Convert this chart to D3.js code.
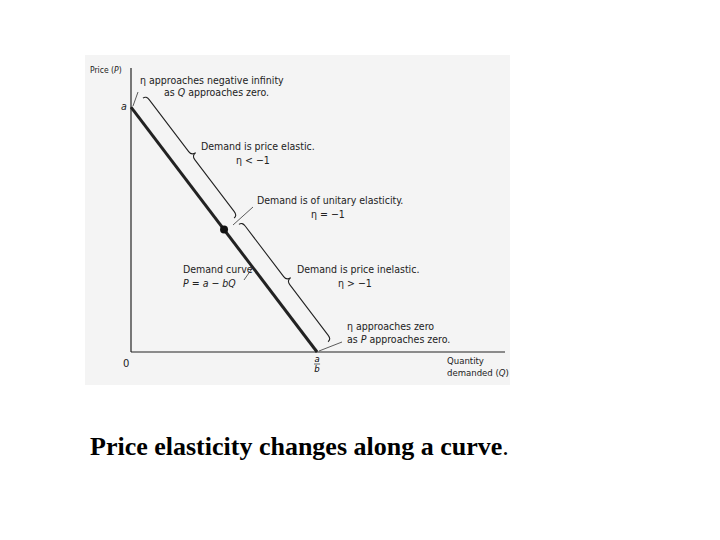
<!DOCTYPE html>
<html><head><meta charset="utf-8">
<script src="https://cdn.jsdelivr.net/npm/d3@7"></script>
<style>body{margin:0;background:#fff}</style>
</head><body>
<svg id="chart" width="720" height="540"></svg>
<script>
// demand curve P = a - bQ, in units of a and a/b
const curveQ = [0, 1];
const curveP = [1, 0];
const unitaryPoint = [0.5, 0.5];
// segments along the curve (fraction of the curve) marked by braces
const braceSpans = [[0.0, 0.49], [0.516, 0.995]];
const xTicks = [{v: 0, t: "0"}];

const svg = d3.select("#chart");
const x = d3.scaleLinear().domain([0, 2.01]).range([131, 505]);
const y = d3.scaleLinear().domain([0, 1.16]).range([352, 68]);

svg.append("rect").attr("x", 85).attr("y", 55).attr("width", 425).attr("height", 330).attr("fill", "#f4f4f4");

// axes
svg.append("line").attr("x1", x(0)).attr("y1", y(0)).attr("x2", x(2.01)).attr("y2", y(0)).attr("stroke", "#222").attr("stroke-width", 1.2);
svg.append("line").attr("x1", x(0)).attr("y1", y(0)).attr("x2", x(0)).attr("y2", y(1.16)).attr("stroke", "#222").attr("stroke-width", 1.2);

// demand curve
svg.append("path")
  .attr("d", d3.line()(curveQ.map((q, i) => [x(q), y(curveP[i])])))
  .attr("stroke", "#222").attr("stroke-width", 3).attr("fill", "none");
svg.append("circle").attr("cx", x(unitaryPoint[0])).attr("cy", y(unitaryPoint[1])).attr("r", 4).attr("fill", "#111");

// braces
const p0 = [x(0), y(1)], p1 = [x(1), y(0)];
const dx = p1[0] - p0[0], dy = p1[1] - p0[1], len = Math.hypot(dx, dy);
const ux = dx / len, uy = dy / len, nx = uy, ny = -ux;
const ang = Math.atan2(dy, dx) * 180 / Math.PI;
braceSpans.forEach(s => {
  const L = (s[1] - s[0]) * len, h = L / 2;
  const ox = p0[0] + ux * s[0] * len + nx * 19, oy = p0[1] + uy * s[0] * len + ny * 19;
  // local frame: along +x, outward -y
  const d = `M0,4 Q0,0 5,0 L${h - 5},0 Q${h},0 ${h},-5 Q${h},0 ${h + 5},0 L${L - 5},0 Q${L},0 ${L},4`;
  svg.append("path").attr("d", d).attr("fill", "none").attr("stroke", "#222").attr("stroke-width", 1.1)
    .attr("transform", `translate(${ox},${oy}) rotate(${ang})`);
});

// leader lines
const leaders = [[138, 92, 133, 106], [253, 207, 233, 225], [251, 270, 244, 280], [342, 342, 319, 351]];
leaders.forEach(l => svg.append("line").attr("x1", l[0]).attr("y1", l[1]).attr("x2", l[2]).attr("y2", l[3]).attr("stroke", "#333").attr("stroke-width", 0.8));

const labels = [
  [90, 73, "Price (<i>P</i>)", 8.5],
  [140, 84, "η  approaches negative infinity", 10.5],
  [164, 96, "as <i>Q</i> approaches zero.", 10.5],
  [121, 110, "<i>a</i>", 10.5],
  [201, 150, "Demand is price elastic.", 10.5],
  [236, 164, "η &lt; −1", 10.5],
  [257, 204, "Demand is of unitary elasticity.", 10.5],
  [311, 218, "η = −1", 10.5],
  [183, 273, "Demand curve", 10.5],
  [183, 287, "<i>P</i> = <i>a</i> − <i>b</i><i>Q</i>", 10.5],
  [297, 273, "Demand is price inelastic.", 10.5],
  [338, 287, "η &gt; −1", 10.5],
  [347, 330, "η approaches zero", 10.5],
  [347, 343, "as <i>P</i> approaches zero.", 10.5],
  [447, 364, "Quantity", 9.5],
  [447, 376, "demanded (<i>Q</i>)", 9.5]
];
labels.forEach(l => svg.append("text").attr("x", l[0]).attr("y", l[1]).attr("font-family", "DejaVu Sans Condensed, DejaVu Sans")
  .attr("font-size", l[3]).attr("fill", "#222").html(l[2].replace(/<i>/g, "<tspan font-style='italic'>").replace(/<\/i>/g, "</tspan>")));

xTicks.forEach(t => svg.append("text").attr("x", x(t.v) - 8).attr("y", 367).attr("font-family", "DejaVu Sans").attr("font-size", 10).attr("fill", "#222").text(t.t));
// a/b fraction
const fb = x(1);
svg.append("text").attr("x", fb).attr("y", 362).attr("text-anchor", "middle").attr("font-size", 8.5).attr("font-style", "italic").attr("font-family", "DejaVu Sans").text("a");
svg.append("line").attr("x1", fb - 3).attr("x2", fb + 3).attr("y1", 364).attr("y2", 364).attr("stroke", "#222").attr("stroke-width", 0.7);
svg.append("text").attr("x", fb).attr("y", 372).attr("text-anchor", "middle").attr("font-size", 8.5).attr("font-style", "italic").attr("font-family", "DejaVu Sans").text("b");

svg.append("text").attr("x", 90).attr("y", 455).attr("font-family", "Liberation Serif, Times New Roman, serif").attr("font-size", 26)
  .html("<tspan font-weight='bold'>Price elasticity changes along a curve</tspan>.");
</script>
</body></html>
